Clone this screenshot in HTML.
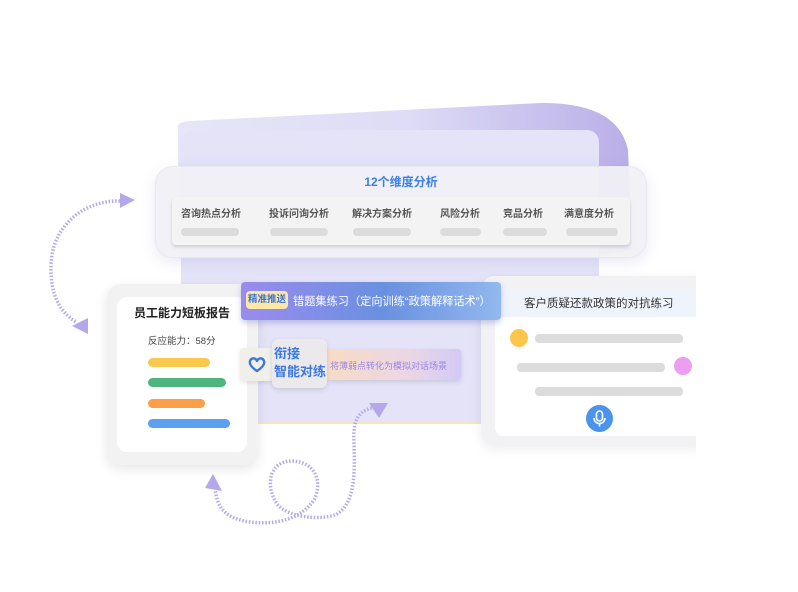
<!DOCTYPE html>
<html><head><meta charset="utf-8"><style>
*{margin:0;padding:0;box-sizing:border-box}
body{width:798px;height:592px;background:#fff;position:relative;overflow:hidden;font-family:"Liberation Sans","Noto Sans CJK SC",sans-serif}
.a{position:absolute}
.bar{position:absolute;height:9px;border-radius:5px}
.g{position:absolute;height:8px;border-radius:4px;background:#dcdcdc}
</style></head><body>
<svg class="a" style="left:0;top:0" width="798" height="592">
<defs>
<linearGradient id="bk" x1="0" y1="0" x2="1" y2="0"><stop offset="0" stop-color="#e6e6f7"/><stop offset="0.5" stop-color="#dedcf6"/><stop offset="1" stop-color="#b9aee8"/></linearGradient>
</defs>
<path d="M178 128 Q176 122 190 121 L540 103 Q618 102 628 150 L632 250 L600 255 L178 255 Z" fill="url(#bk)"/>
<rect x="181" y="130" width="418" height="294" rx="12" fill="#e4e3f8"/>
<line x1="185" y1="423" x2="480" y2="423" stroke="#f6e6c0" stroke-width="2"/>
<g fill="none" stroke="#b4a8ea" stroke-width="3.5" stroke-dasharray="1.5 1.8">
<path d="M120 201 C85 200 52 225 51 265 C50 295 60 312 76 322"/>
<path d="M215 488 C217 505 222 518 250 522 C275 525 300 520 314 500 C322 485 318 462 292 461 C268 461 265 488 278 505 C290 518 320 520 335 515 C355 505 355 475 354 445 C353 425 355 412 372 408"/>
</g>
<g fill="#b4a8ea">
<polygon points="120,193 135,200 120,208"/>
<polygon points="72,326 88,318 88,334"/>
<polygon points="213,474 222,491 205,488"/>
<polygon points="369,403 388,403 379,418"/>
</g>
</svg>

<!-- 12 dims card -->
<div class="a" style="left:155px;top:166px;width:492px;height:92px;border-radius:18px;background:rgba(240,240,246,0.95);border:1px solid #e8e8ee;box-shadow:0 4px 14px rgba(140,130,200,0.18)"></div>
<div class="a" style="left:155px;top:173px;width:492px;text-align:center;color:#3d7fe6;font-size:12px;font-weight:bold">12个维度分析</div>
<div class="a" style="left:172px;top:197px;width:458px;height:48px;border-radius:4px;background:#f3f3f3;box-shadow:0 2px 3px rgba(0,0,0,0.15)"></div>
<div class="a" style="top:205px;left:0;width:798px;font-size:10px;color:#555;font-weight:bold">
<span class="a" style="left:181px">咨询热点分析</span><span class="a" style="left:269px">投诉问询分析</span><span class="a" style="left:352px">解决方案分析</span><span class="a" style="left:440px">风险分析</span><span class="a" style="left:503px">竞品分析</span><span class="a" style="left:564px">满意度分析</span>
</div>
<div class="g" style="left:181px;top:228px;width:58px"></div>
<div class="g" style="left:270px;top:228px;width:58px"></div>
<div class="g" style="left:353px;top:228px;width:58px"></div>
<div class="g" style="left:440px;top:228px;width:41px"></div>
<div class="g" style="left:503px;top:228px;width:44px"></div>
<div class="g" style="left:566px;top:228px;width:52px"></div>

<!-- right card -->
<div class="a" style="left:481px;top:276px;width:230px;height:169px;border-radius:14px;background:#f2f2f4;box-shadow:0 4px 12px rgba(0,0,0,0.08)"></div>
<div class="a" style="left:495px;top:289px;width:210px;height:147px;border-radius:8px;background:#fff"></div>
<div class="a" style="left:495px;top:289px;width:210px;height:28px;background:#eef3fc;border-radius:8px 8px 0 0"></div>
<div class="a" style="left:524px;top:295px;font-size:11.5px;color:#333">客户质疑还款政策的对抗练习</div>
<div class="a" style="left:510px;top:329px;width:18px;height:18px;border-radius:50%;background:#fcc64a"></div>
<div class="g" style="left:535px;top:334px;width:148px;height:9px"></div>
<div class="g" style="left:517px;top:363px;width:148px;height:9px"></div>
<div class="a" style="left:674px;top:357px;width:18px;height:18px;border-radius:50%;background:#ec9ef0"></div>
<div class="g" style="left:535px;top:387px;width:148px;height:9px"></div>
<div class="a" style="left:586px;top:405px;width:27px;height:27px;border-radius:50%;background:#4c93ec"></div>
<svg class="a" style="left:586px;top:405px" width="27" height="27"><rect x="10.5" y="6" width="6" height="10" rx="3" fill="none" stroke="#fff" stroke-width="1.6"/><path d="M8 13 a5.5 5.5 0 0 0 11 0 M13.5 18.5 v3" fill="none" stroke="#fff" stroke-width="1.6"/></svg>
<div class="a" style="left:696px;top:260px;width:102px;height:200px;background:#fff"></div>

<!-- left card -->
<div class="a" style="left:107px;top:284px;width:151px;height:181px;border-radius:14px;background:#f2f2f3;box-shadow:0 4px 12px rgba(0,0,0,0.1)"></div>
<div class="a" style="left:117px;top:297px;width:130px;height:155px;border-radius:10px;background:#fff"></div>
<div class="a" style="left:117px;top:304px;width:130px;text-align:center;font-size:12px;font-weight:bold;color:#222">员工能力短板报告</div>
<div class="a" style="left:148px;top:333px;font-size:9.5px;color:#444">反应能力：58分</div>
<div class="bar" style="left:148px;top:358px;width:62px;background:#fbc84e"></div>
<div class="bar" style="left:148px;top:378px;width:78px;background:#4db57d"></div>
<div class="bar" style="left:148px;top:399px;width:57px;background:#fd9e48"></div>
<div class="bar" style="left:148px;top:419px;width:82px;background:#5d9ff0"></div>

<!-- blue banner -->
<div class="a" style="left:241px;top:282px;width:260px;height:38px;border-radius:4px;background:linear-gradient(90deg,#9a8bef,#6a90e0 55%,#92b8ee);box-shadow:0 3px 6px rgba(80,90,180,0.3)"></div>
<div class="a" style="left:246px;top:291px;width:42px;height:18px;border-radius:4px;background:#fde7a5;color:#3a74d8;font-size:9.5px;font-weight:bold;text-align:center;line-height:18px">精准推送</div>
<div class="a" style="left:293px;top:293px;font-size:11.2px;color:#fff;white-space:nowrap">错题集练习（定向训练“政策解释话术”）</div>

<!-- second row -->
<div class="a" style="left:327px;top:349px;width:134px;height:31px;border-radius:3px;background:linear-gradient(90deg,#f7dcc4,#ecd6e4 60%,#d2caf6);box-shadow:0 2px 5px rgba(0,0,0,0.12)"></div>
<div class="a" style="left:330px;top:359px;font-size:9px;color:#9a86e6;white-space:nowrap">将薄弱点转化为模拟对话场景</div>
<div class="a" style="left:240px;top:348px;width:34px;height:33px;border-radius:3px;background:#f1efe9;box-shadow:0 2px 4px rgba(0,0,0,0.1)"></div>
<svg class="a" style="left:248px;top:356px" width="18" height="17"><path d="M9 15 C3 11 1 8 2 5 C3 2 7 1 9 5 C11 1 15 2 16 5 C17 8 15 11 9 15 Z" fill="none" stroke="#3a78e0" stroke-width="2.4" stroke-linejoin="round"/></svg>
<div class="a" style="left:272px;top:339px;width:55px;height:49px;border-radius:6px;background:#ece9ec;box-shadow:0 2px 5px rgba(0,0,0,0.12)"></div>
<div class="a" style="left:274px;top:345px;font-size:13px;line-height:18px;color:#3a78e0;font-weight:bold;white-space:nowrap">衔接<br>智能对练</div>
</body></html>
